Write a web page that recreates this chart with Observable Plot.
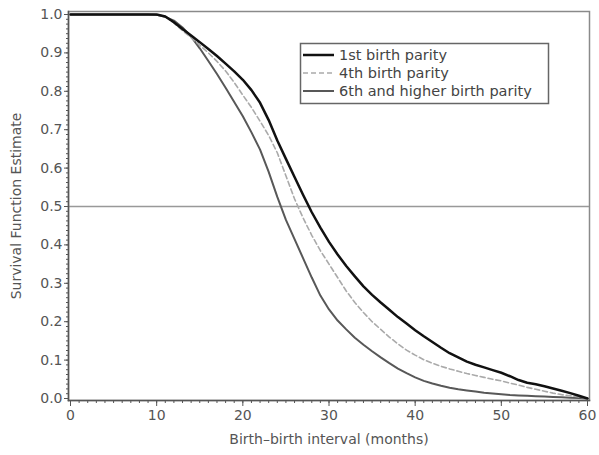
<!DOCTYPE html>
<html>
<head>
<meta charset="utf-8">
<script src="https://cdn.jsdelivr.net/npm/d3@7"></script>
<script src="https://cdn.jsdelivr.net/npm/@observablehq/plot@0.6"></script>
<style>
  html, body { margin: 0; padding: 0; background: white; }
  #wrap { position: relative; width: 599px; height: 455px; }
  #legend { position: absolute; left: 0; top: 0; pointer-events: none; }
</style>
</head>
<body>
<div id="wrap"></div>
<script>
const months = [0,1,2,3,4,5,6,7,8,9,10,11,12,13,14,15,16,17,18,19,20,21,22,23,24,25,26,27,28,29,30,31,32,33,34,35,36,37,38,39,40,41,42,43,44,45,46,47,48,49,50,51,52,53,54,55,56,57,58,59,60];

const parity1 = [1,1,1,1,1,1,1,1,1,1,1,
  0.995,0.98,0.962,0.945,0.928,0.91,0.892,0.872,0.852,0.83,
  0.803,0.77,0.725,0.672,0.624,0.577,0.53,0.485,0.445,0.408,
  0.375,0.345,0.318,0.292,0.27,0.25,0.231,0.212,0.195,0.178,
  0.162,0.147,0.132,0.118,0.107,0.096,0.088,0.081,0.074,0.067,
  0.058,0.048,0.041,0.037,0.032,0.026,0.02,0.014,0.007,0];

const parity4 = [1,1,1,1,1,1,1,1,1,1,1,
  0.995,0.978,0.958,0.94,0.92,0.9,0.878,0.853,0.823,0.79,
  0.758,0.722,0.685,0.64,0.58,0.52,0.47,0.425,0.385,0.35,
  0.315,0.28,0.25,0.224,0.2,0.18,0.16,0.142,0.126,0.113,
  0.101,0.092,0.084,0.077,0.071,0.065,0.06,0.055,0.05,0.046,
  0.04,0.035,0.029,0.024,0.019,0.014,0.01,0.007,0.004,0];

const parity6 = [1,1,1,1,1,1,1,1,1,1,
  0.999,0.994,0.984,0.966,0.942,0.912,0.879,0.845,0.809,0.772,0.735,
  0.693,0.648,0.59,0.525,0.465,0.415,0.365,0.315,0.268,0.232,
  0.203,0.18,0.158,0.14,0.123,0.107,0.092,0.078,0.066,0.055,
  0.046,0.039,0.033,0.028,0.024,0.021,0.018,0.015,0.013,0.011,
  0.009,0.008,0.007,0.006,0.005,0.004,0.003,0.002,0.001,0];

const seriesNames = ["1st birth parity", "4th birth parity", "6th and higher birth parity"];
const xTicks = [0,10,20,30,40,50,60];
const yTicks = [0,0.1,0.2,0.3,0.4,0.5,0.6,0.7,0.8,0.9,1.0];
const xMinorTicks = months;
const yMinorTicks = d3.range(0, 80).map(i => i * 0.0125).filter(v => v <= 1.0001);
const refLine = [0.5];

const rows = (vals) => months.map((m, i) => ({m, s: vals[i]}));

const chart = Plot.plot({
  width: 599,
  height: 455,
  marginLeft: 68,
  marginRight: 10,
  marginTop: 11,
  marginBottom: 55,
  style: {fontFamily: "DejaVu Sans, sans-serif", fontSize: "14px", color: "#555", background: "white"},
  x: {domain: [0, 60], insetLeft: 2, insetRight: 2},
  y: {domain: [0, 1], insetTop: 3, insetBottom: 2},
  marks: [
    Plot.frame({stroke: "#8a8a8a", strokeWidth: 1.5}),
    Plot.ruleY(refLine, {stroke: "#999", strokeWidth: 1.5}),
    Plot.line(rows(parity6), {x: "m", y: "s", stroke: "#585858", strokeWidth: 2}),
    Plot.line(rows(parity4), {x: "m", y: "s", stroke: "#aaa", strokeWidth: 1.6, strokeDasharray: "5,3"}),
    Plot.line(rows(parity1), {x: "m", y: "s", stroke: "#111", strokeWidth: 2.5}),
    Plot.frame({anchor: "left", stroke: "#555", strokeWidth: 1.5}),
    Plot.frame({anchor: "bottom", stroke: "#555", strokeWidth: 1.5}),
    Plot.axisX({ticks: xMinorTicks, tickSize: 3, text: null, label: null, stroke: "#555"}),
    Plot.axisY({ticks: yMinorTicks, tickSize: 2, text: null, label: null, stroke: "#555"}),
    Plot.axisX({ticks: xTicks, tickSize: 6, tickPadding: 4, stroke: "#555",
      label: "Birth\u2013birth interval (months)", labelAnchor: "center", labelArrow: "none", labelOffset: 43}),
    Plot.axisY({ticks: yTicks, tickSize: 4, tickPadding: 2, stroke: "#555", tickFormat: d3.format(".1f"),
      label: "Survival Function Estimate", labelAnchor: "center", labelArrow: "none", labelOffset: 57})
  ]
});

const wrap = document.getElementById("wrap");
wrap.appendChild(chart);

// Legend (inset box, top right of plot)
const ns = "http://www.w3.org/2000/svg";
const leg = document.createElementNS(ns, "svg");
leg.setAttribute("id", "legend");
leg.setAttribute("width", 599);
leg.setAttribute("height", 455);
const box = document.createElementNS(ns, "rect");
box.setAttribute("x", 300.5); box.setAttribute("y", 43.5);
box.setAttribute("width", 248); box.setAttribute("height", 60);
box.setAttribute("fill", "white"); box.setAttribute("stroke", "#666"); box.setAttribute("stroke-width", 1.5);
leg.appendChild(box);
const styles = [
  {stroke: "#111", width: 2.5, dash: null},
  {stroke: "#aaa", width: 1.6, dash: "5,3"},
  {stroke: "#585858", width: 2, dash: null}
];
seriesNames.forEach((name, i) => {
  const y = 55 + i * 18;
  const ln = document.createElementNS(ns, "line");
  ln.setAttribute("x1", 303); ln.setAttribute("x2", 334);
  ln.setAttribute("y1", y); ln.setAttribute("y2", y);
  ln.setAttribute("stroke", styles[i].stroke);
  ln.setAttribute("stroke-width", styles[i].width);
  if (styles[i].dash) ln.setAttribute("stroke-dasharray", styles[i].dash);
  leg.appendChild(ln);
  const t = document.createElementNS(ns, "text");
  t.setAttribute("x", 339); t.setAttribute("y", y);
  t.setAttribute("dy", "0.35em");
  t.setAttribute("font-family", "DejaVu Sans, sans-serif");
  t.setAttribute("font-size", "14.5px");
  t.setAttribute("fill", "#444");
  t.textContent = name;
  leg.appendChild(t);
});
wrap.appendChild(leg);
</script>
</body>
</html>
